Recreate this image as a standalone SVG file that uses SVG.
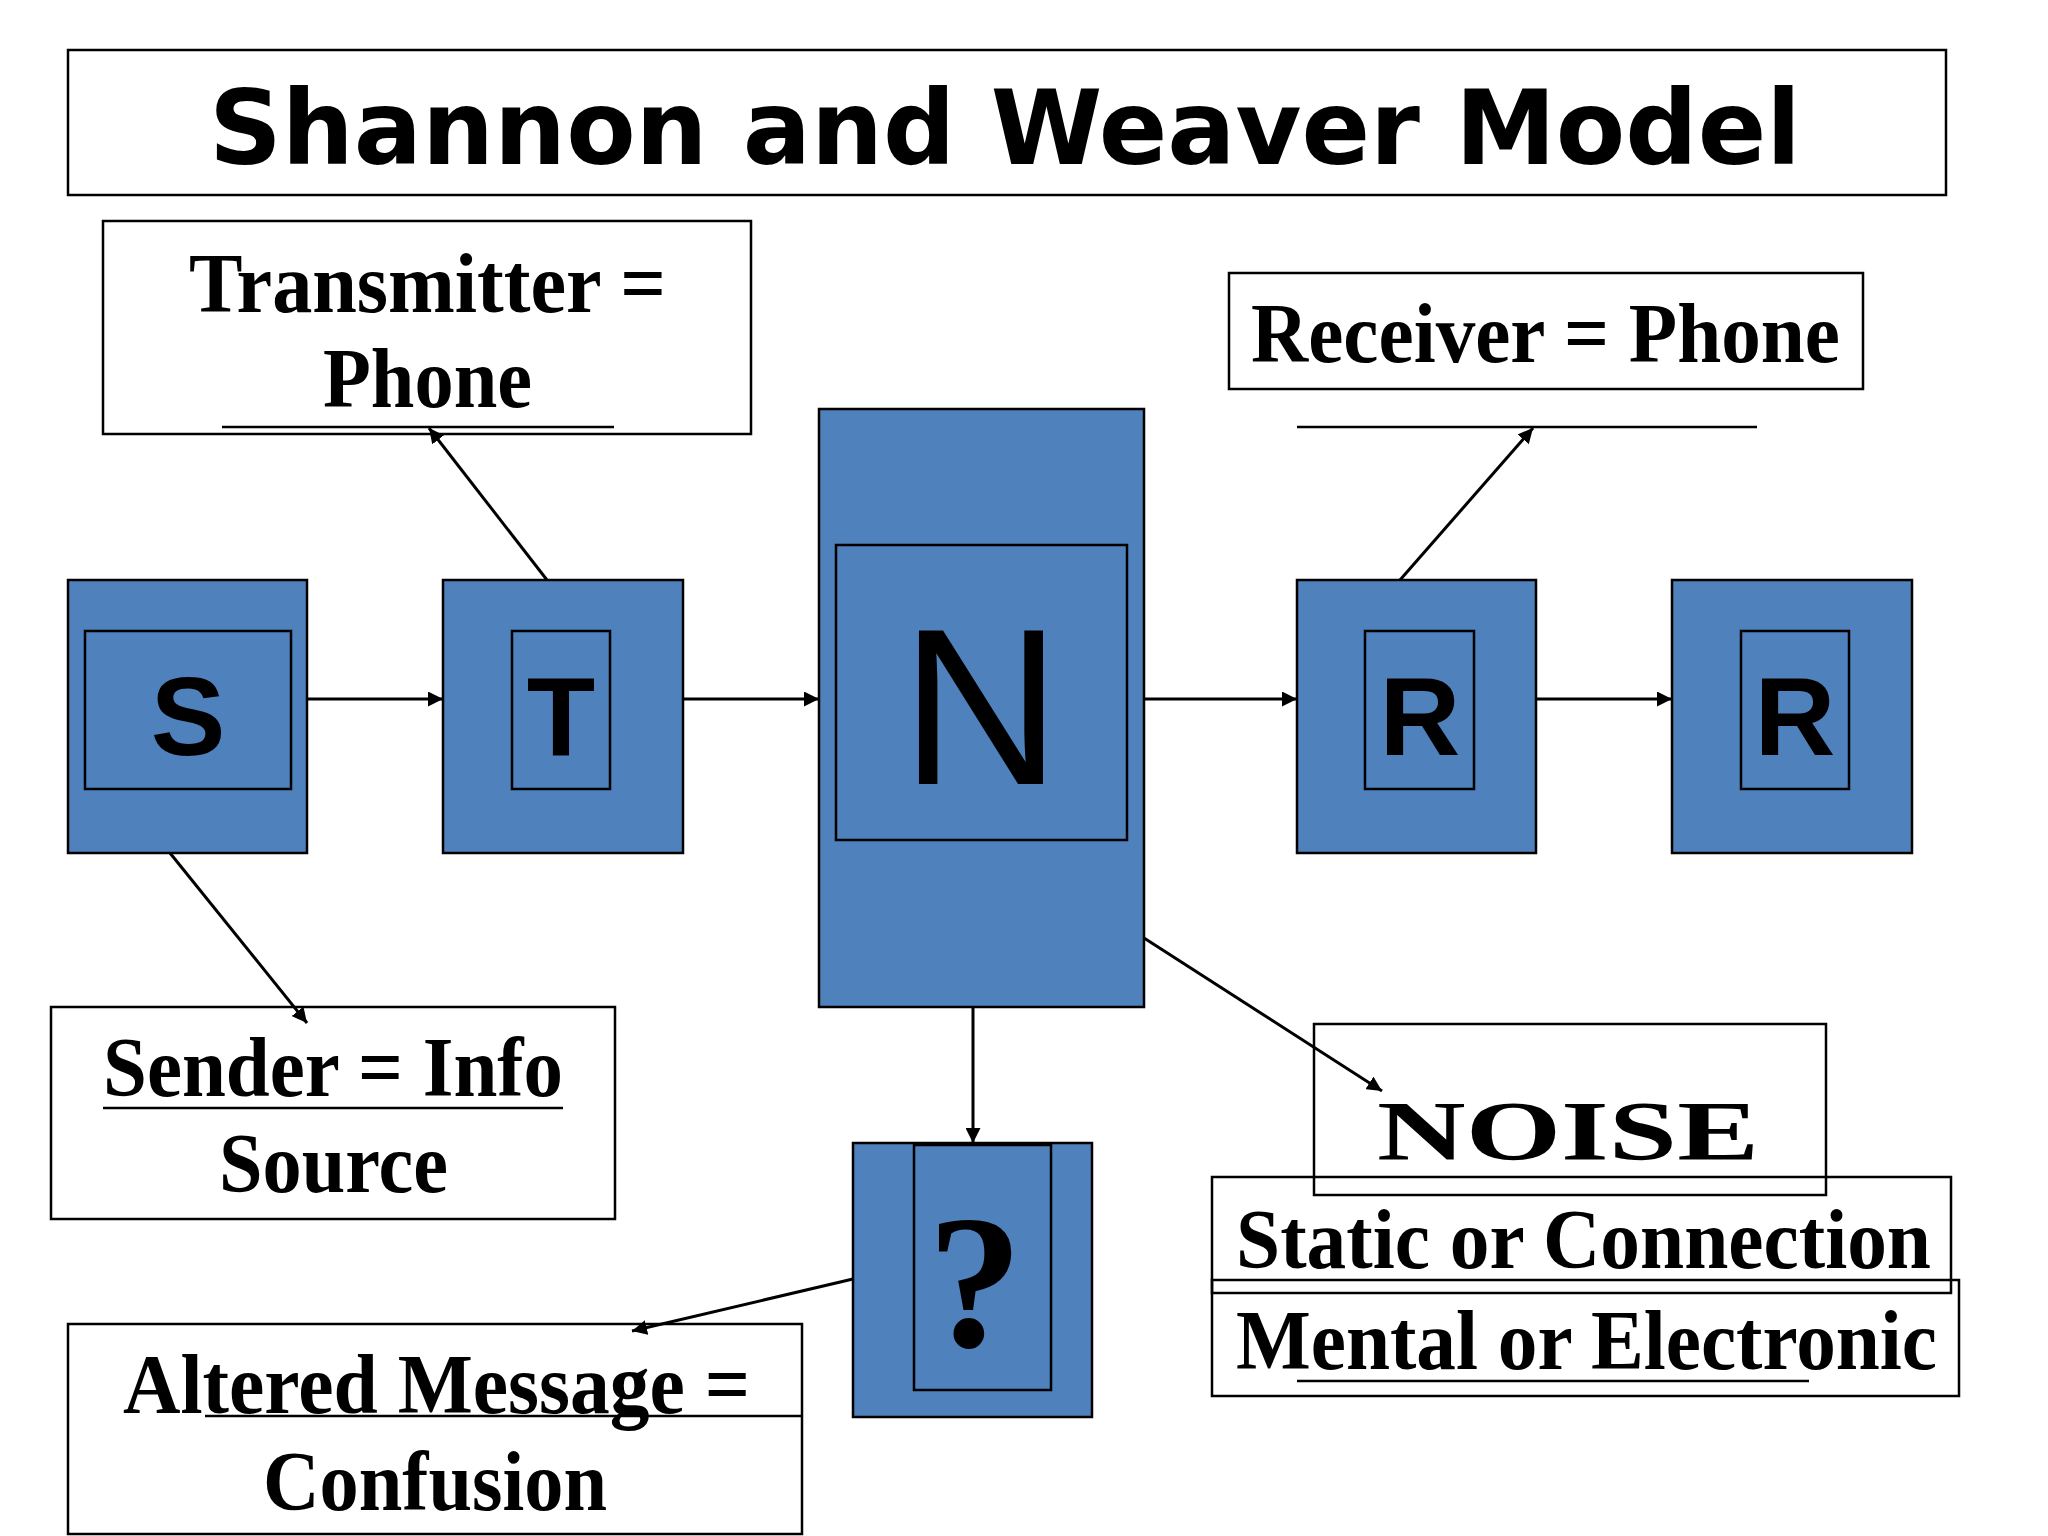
<svg xmlns="http://www.w3.org/2000/svg" width="2048" height="1536" viewBox="0 0 2048 1536">
<style>
.box{fill:#fff;stroke:#000;stroke-width:2.5}
.blue{fill:#4f81bd;stroke:#000;stroke-width:2.5}
.t{font-family:"Liberation Serif","Times New Roman",serif;font-weight:bold;font-size:84px;fill:#000}
.l{font-family:"Liberation Sans",Arial,sans-serif;font-weight:bold;font-size:112px;fill:#000;text-anchor:middle}
.ln{stroke:#000;stroke-width:2.5;fill:none}
.c{stroke:#000;stroke-width:3;fill:none;marker-end:url(#ah)}
</style>
<defs>
<marker id="ah" viewBox="0 0 10 10" refX="10" refY="5" markerWidth="5" markerHeight="5" orient="auto" markerUnits="strokeWidth"><path d="M0,0L10,5L0,10z" fill="#000"/></marker>
</defs>
<rect width="2048" height="1536" fill="#fff"/>
<g id="title"><rect class="box" x="68" y="50" width="1878" height="145"/>
<text x="209" y="164" font-family="'DejaVu Sans',Verdana,sans-serif" font-weight="bold" font-size="104" textLength="1592" lengthAdjust="spacingAndGlyphs">Shannon and Weaver Model</text></g>
<g id="transmitter"><rect class="box" x="103" y="221" width="648" height="213"/>
<text class="t" x="189" y="312" textLength="477" lengthAdjust="spacingAndGlyphs">Transmitter =</text>
<text class="t" x="323" y="407" textLength="209" lengthAdjust="spacingAndGlyphs">Phone</text>
<line class="ln" x1="222" y1="427" x2="614" y2="427"/></g>
<g id="receiver"><rect class="box" x="1229" y="273" width="634" height="116"/>
<text class="t" x="1251" y="362" textLength="589" lengthAdjust="spacingAndGlyphs">Receiver = Phone</text>
<line class="ln" x1="1297" y1="427" x2="1757" y2="427"/></g>
<g id="S"><rect class="blue" x="68" y="580" width="239" height="273"/><rect class="blue" x="85" y="631" width="206" height="158"/><text class="l" x="188" y="755">S</text></g>
<g id="T"><rect class="blue" x="443" y="580" width="240" height="273"/><rect class="blue" x="512" y="631" width="98" height="158"/><text class="l" x="561" y="755">T</text></g>
<g id="N"><rect class="blue" x="819" y="409" width="325" height="598"/><rect class="blue" x="836" y="545" width="291" height="295"/><text x="981" y="784" font-family="'Liberation Sans',Arial,sans-serif" font-size="222" text-anchor="middle">N</text></g>
<g id="R1"><rect class="blue" x="1297" y="580" width="239" height="273"/><rect class="blue" x="1365" y="631" width="109" height="158"/><text class="l" x="1420" y="755">R</text></g>
<g id="R2"><rect class="blue" x="1672" y="580" width="240" height="273"/><rect class="blue" x="1741" y="631" width="108" height="158"/><text class="l" x="1795" y="755">R</text></g>
<g id="sender"><rect class="box" x="51" y="1007" width="564" height="212"/>
<text class="t" x="103" y="1096" textLength="460" lengthAdjust="spacingAndGlyphs">Sender = Info</text>
<line class="ln" x1="103" y1="1108" x2="563" y2="1108"/>
<text class="t" x="219" y="1192" textLength="229" lengthAdjust="spacingAndGlyphs">Source</text></g>
<g id="question"><rect class="blue" x="853" y="1143" width="239" height="274"/><rect class="blue" x="914" y="1145" width="137" height="245"/>
<text x="975" y="1346" font-family="'Liberation Serif',serif" font-weight="bold" font-size="190" text-anchor="middle">?</text></g>
<g id="altered"><rect class="box" x="68" y="1324" width="734" height="210"/>
<text class="t" x="123" y="1413" textLength="627" lengthAdjust="spacingAndGlyphs">Altered Message =</text>
<line class="ln" x1="205" y1="1416" x2="802" y2="1416"/>
<text class="t" x="263" y="1510" textLength="344" lengthAdjust="spacingAndGlyphs">Confusion</text></g>
<g id="noise"><rect class="box" x="1314" y="1024" width="512" height="171" fill="none"/>
<text class="t" x="1377" y="1160" font-size="126" textLength="382" lengthAdjust="spacingAndGlyphs">NOISE</text></g>
<g id="static"><rect class="box" x="1212" y="1177" width="739" height="116" fill="none" style="fill:none"/>
<text class="t" x="1236" y="1268" textLength="695" lengthAdjust="spacingAndGlyphs">Static or Connection</text></g>
<g id="mental"><rect class="box" x="1212" y="1280" width="747" height="116" style="fill:none"/>
<text class="t" x="1236" y="1369" textLength="701" lengthAdjust="spacingAndGlyphs">Mental or Electronic</text>
<line class="ln" x1="1297" y1="1381" x2="1809" y2="1381"/></g>
<g id="connectors">
<line class="c" x1="307" y1="699" x2="443" y2="699"/>
<line class="c" x1="683" y1="699" x2="819" y2="699"/>
<line class="c" x1="1144" y1="699" x2="1297" y2="699"/>
<line class="c" x1="1536" y1="699" x2="1672" y2="699"/>
<line class="c" x1="547" y1="580" x2="429" y2="428"/>
<line class="c" x1="1400" y1="580" x2="1533" y2="428"/>
<line class="c" x1="170" y1="853" x2="307" y2="1023"/>
<line class="c" x1="973" y1="1007" x2="973" y2="1143"/>
<line class="c" x1="853" y1="1279" x2="632" y2="1331"/>
<line class="c" x1="1144" y1="938" x2="1382" y2="1091"/>
</g>
</svg>
